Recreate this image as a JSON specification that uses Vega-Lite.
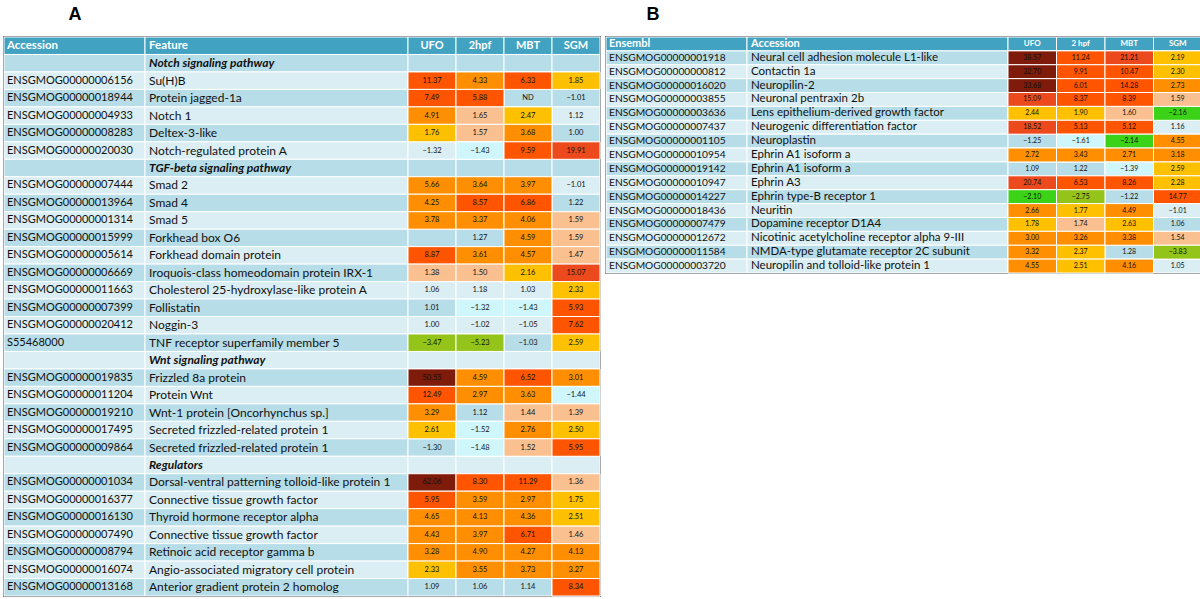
{
"$schema": "https://vega.github.io/schema/vega-lite/v6.json",
"padding": {"left": 2, "top": 4, "right": 0, "bottom": 0},
"background": "white",
"config": {"view": {"stroke": "#1a1a1a", "strokeWidth": 1.5}, "text": {"font": "Lato", "color": "#111"}, "title": {"font": "Liberation Sans", "fontSize": 18, "fontWeight": "bold", "color": "#000", "anchor": "start", "offset": 13}},
"spacing": 2,
"datasets": {
"A": [
{"r": 0, "acc": "Accession", "feat": "Feature"},
{"r": 1, "acc": "", "feat": "Notch signaling pathway", "cat": true},
{"r": 2, "acc": "ENSGMOG00000006156", "feat": "Su(H)B", "UFO": 11.37, "2hpf": 4.33, "MBT": 6.33, "SGM": 1.85},
{"r": 3, "acc": "ENSGMOG00000018944", "feat": "Protein jagged-1a", "UFO": 7.49, "2hpf": 5.88, "MBT": null, "SGM": -1.01, "nd": "MBT"},
{"r": 4, "acc": "ENSGMOG00000004933", "feat": "Notch 1", "UFO": 4.91, "2hpf": 1.65, "MBT": 2.47, "SGM": 1.12},
{"r": 5, "acc": "ENSGMOG00000008283", "feat": "Deltex-3-like", "UFO": 1.76, "2hpf": 1.57, "MBT": 3.68, "SGM": 1.00},
{"r": 6, "acc": "ENSGMOG00000020030", "feat": "Notch-regulated protein A", "UFO": -1.316, "2hpf": -1.43, "MBT": 9.59, "SGM": 19.91},
{"r": 7, "acc": "", "feat": "TGF-beta signaling pathway", "cat": true},
{"r": 8, "acc": "ENSGMOG00000007444", "feat": "Smad 2", "UFO": 5.66, "2hpf": 3.64, "MBT": 3.97, "SGM": -1.01},
{"r": 9, "acc": "ENSGMOG00000013964", "feat": "Smad 4", "UFO": 4.25, "2hpf": 8.57, "MBT": 6.86, "SGM": 1.22},
{"r": 10, "acc": "ENSGMOG00000001314", "feat": "Smad 5", "UFO": 3.78, "2hpf": 3.37, "MBT": 4.06, "SGM": 1.59},
{"r": 11, "acc": "ENSGMOG00000015999", "feat": "Forkhead box O6", "UFO": null, "2hpf": 1.27, "MBT": 4.59, "SGM": 1.59},
{"r": 12, "acc": "ENSGMOG00000005614", "feat": "Forkhead domain protein", "UFO": 8.87, "2hpf": 3.61, "MBT": 4.57, "SGM": 1.47},
{"r": 13, "acc": "ENSGMOG00000006669", "feat": "Iroquois-class homeodomain protein IRX-1", "UFO": 1.38, "2hpf": 1.50, "MBT": 2.16, "SGM": 15.07},
{"r": 14, "acc": "ENSGMOG00000011663", "feat": "Cholesterol 25-hydroxylase-like protein A", "UFO": 1.06, "2hpf": 1.18, "MBT": 1.03, "SGM": 2.33},
{"r": 15, "acc": "ENSGMOG00000007399", "feat": "Follistatin", "UFO": 1.01, "2hpf": -1.324, "MBT": -1.43, "SGM": 5.93},
{"r": 16, "acc": "ENSGMOG00000020412", "feat": "Noggin-3", "UFO": 1.00, "2hpf": -1.02, "MBT": -1.05, "SGM": 7.62},
{"r": 17, "acc": "S55468000", "feat": "TNF receptor superfamily member 5", "UFO": -3.47, "2hpf": -5.23, "MBT": -1.03, "SGM": 2.59},
{"r": 18, "acc": "", "feat": "Wnt signaling pathway", "cat": true},
{"r": 19, "acc": "ENSGMOG00000019835", "feat": "Frizzled 8a protein", "UFO": 50.55, "2hpf": 4.59, "MBT": 6.52, "SGM": 3.01},
{"r": 20, "acc": "ENSGMOG00000011204", "feat": "Protein Wnt", "UFO": 12.49, "2hpf": 2.97, "MBT": 3.63, "SGM": -1.44},
{"r": 21, "acc": "ENSGMOG00000019210", "feat": "Wnt-1 protein [Oncorhynchus sp.]", "UFO": 3.29, "2hpf": 1.12, "MBT": 1.44, "SGM": 1.39},
{"r": 22, "acc": "ENSGMOG00000017495", "feat": "Secreted frizzled-related protein 1", "UFO": 2.61, "2hpf": -1.52, "MBT": 2.76, "SGM": 2.50},
{"r": 23, "acc": "ENSGMOG00000009864", "feat": "Secreted frizzled-related protein 1", "UFO": -1.30, "2hpf": -1.48, "MBT": 1.52, "SGM": 5.95},
{"r": 24, "acc": "", "feat": "Regulators", "cat": true},
{"r": 25, "acc": "ENSGMOG00000001034", "feat": "Dorsal-ventral patterning tolloid-like protein 1", "UFO": 62.06, "2hpf": 8.30, "MBT": 11.29, "SGM": 1.36},
{"r": 26, "acc": "ENSGMOG00000016377", "feat": "Connective tissue growth factor", "UFO": 5.95, "2hpf": 3.59, "MBT": 2.97, "SGM": 1.75},
{"r": 27, "acc": "ENSGMOG00000016130", "feat": "Thyroid hormone receptor alpha", "UFO": 4.65, "2hpf": 4.13, "MBT": 4.36, "SGM": 2.51},
{"r": 28, "acc": "ENSGMOG00000007490", "feat": "Connective tissue growth factor", "UFO": 4.43, "2hpf": 3.97, "MBT": 6.71, "SGM": 1.46},
{"r": 29, "acc": "ENSGMOG00000008794", "feat": "Retinoic acid receptor gamma b", "UFO": 3.28, "2hpf": 4.90, "MBT": 4.27, "SGM": 4.13},
{"r": 30, "acc": "ENSGMOG00000016074", "feat": "Angio-associated migratory cell protein", "UFO": 2.33, "2hpf": 3.55, "MBT": 3.73, "SGM": 3.27},
{"r": 31, "acc": "ENSGMOG00000013168", "feat": "Anterior gradient protein 2 homolog", "UFO": 1.09, "2hpf": 1.06, "MBT": 1.14, "SGM": 8.34}
],
"B": [
{"r": 0, "acc": "Ensembl", "feat": "Accession"},
{"r": 1, "acc": "ENSGMOG00000001918", "feat": "Neural cell adhesion molecule L1-like", "UFO": 38.57, "2 hpf": 11.24, "MBT": 21.21, "SGM": 2.19},
{"r": 2, "acc": "ENSGMOG00000000812", "feat": "Contactin 1a", "UFO": 32.70, "2 hpf": 9.91, "MBT": 10.47, "SGM": 2.30},
{"r": 3, "acc": "ENSGMOG00000016020", "feat": "Neuropilin-2", "UFO": 33.68, "2 hpf": 6.01, "MBT": 14.28, "SGM": 2.73},
{"r": 4, "acc": "ENSGMOG00000003855", "feat": "Neuronal pentraxin 2b", "UFO": 15.09, "2 hpf": 8.37, "MBT": 8.39, "SGM": 1.59},
{"r": 5, "acc": "ENSGMOG00000003636", "feat": "Lens epithelium-derived growth factor", "UFO": 2.44, "2 hpf": 1.90, "MBT": 1.60, "SGM": -2.16},
{"r": 6, "acc": "ENSGMOG00000007437", "feat": "Neurogenic differentiation factor", "UFO": 18.52, "2 hpf": 5.13, "MBT": 5.12, "SGM": 1.16},
{"r": 7, "acc": "ENSGMOG00000001105", "feat": "Neuroplastin", "UFO": -1.25, "2 hpf": -1.61, "MBT": -2.14, "SGM": 4.55},
{"r": 8, "acc": "ENSGMOG00000010954", "feat": "Ephrin A1 isoform a", "UFO": 2.72, "2 hpf": 3.43, "MBT": 2.71, "SGM": 3.18},
{"r": 9, "acc": "ENSGMOG00000019142", "feat": "Ephrin A1 isoform a", "UFO": 1.09, "2 hpf": 1.22, "MBT": -1.39, "SGM": 2.59},
{"r": 10, "acc": "ENSGMOG00000010947", "feat": "Ephrin A3", "UFO": 20.74, "2 hpf": 6.53, "MBT": 8.26, "SGM": 2.28},
{"r": 11, "acc": "ENSGMOG00000014227", "feat": "Ephrin type-B receptor 1", "UFO": -2.10, "2 hpf": -2.75, "MBT": -1.22, "SGM": 14.77},
{"r": 12, "acc": "ENSGMOG00000018436", "feat": "Neuritin", "UFO": 2.66, "2 hpf": 1.77, "MBT": 4.49, "SGM": -1.01},
{"r": 13, "acc": "ENSGMOG00000007479", "feat": "Dopamine receptor D1A4", "UFO": 1.78, "2 hpf": 1.74, "MBT": 2.63, "SGM": 1.06},
{"r": 14, "acc": "ENSGMOG00000012672", "feat": "Nicotinic acetylcholine receptor alpha 9-III", "UFO": 3.00, "2 hpf": 3.26, "MBT": 3.38, "SGM": 1.54},
{"r": 15, "acc": "ENSGMOG00000011584", "feat": "NMDA-type glutamate receptor 2C subunit", "UFO": 3.32, "2 hpf": 2.37, "MBT": 1.28, "SGM": -3.83},
{"r": 16, "acc": "ENSGMOG00000003720", "feat": "Neuropilin and tolloid-like protein 1", "UFO": 4.55, "2 hpf": 2.51, "MBT": 4.16, "SGM": 1.05}
]
},
"hconcat": [
{
"title": {"text": "A", "dx": 65},
"width": 596, "height": 559,
"data": {"name": "A"},
"encoding": {"y": {"field": "r", "type": "ordinal", "axis": null, "scale": {"paddingInner": 0, "paddingOuter": 0}}},
"layer": [
{"mark": {"type": "rect", "stroke": "white", "strokeWidth": 1}, "encoding": {"x": {"value": 0}, "x2": {"value": 141}, "fill": {"condition": [{"test": "datum.r == 0", "value": "#41A2C2"}, {"test": "datum.r % 2 == 1", "value": "#B7DDE8"}], "value": "#DAEEF3"}}},
{"mark": {"type": "rect", "stroke": "white", "strokeWidth": 1}, "encoding": {"x": {"value": 141}, "x2": {"value": 404}, "fill": {"condition": [{"test": "datum.r == 0", "value": "#41A2C2"}, {"test": "datum.r % 2 == 1", "value": "#B7DDE8"}], "value": "#DAEEF3"}}},
{"transform": [{"filter": "datum.r > 0"}], "mark": {"type": "text", "align": "left", "dx": 3, "fontSize": 11}, "encoding": {"x": {"value": 0}, "text": {"field": "acc"}}},
{"transform": [{"filter": "datum.r > 0 && !datum.cat"}], "mark": {"type": "text", "align": "left", "dx": 4, "fontSize": 12}, "encoding": {"x": {"value": 141}, "text": {"field": "feat"}}},
{"transform": [{"filter": "datum.cat"}], "mark": {"type": "text", "align": "left", "dx": 4, "fontSize": 12, "fontWeight": "bold", "fontStyle": "italic"}, "encoding": {"x": {"value": 141}, "text": {"field": "feat"}}},
{"transform": [{"filter": "datum.r == 0"}], "mark": {"type": "text", "align": "left", "dx": 3, "fontSize": 11.5, "fontWeight": "bold", "color": "white"}, "encoding": {"x": {"value": 0}, "text": {"field": "acc"}}},
{"transform": [{"filter": "datum.r == 0"}], "mark": {"type": "text", "align": "left", "dx": 4, "fontSize": 11.5, "fontWeight": "bold", "color": "white"}, "encoding": {"x": {"value": 141}, "text": {"field": "feat"}}},
{"transform": [{"fold": ["UFO", "2hpf", "MBT", "SGM"], "as": ["key", "v"]}], "mark": {"type": "rect", "stroke": "white", "strokeWidth": 1}, "encoding": {"x": {"field": "key", "type": "nominal", "axis": null, "scale": {"domain": ["UFO", "2hpf", "MBT", "SGM"], "range": [404, 596], "paddingInner": 0, "paddingOuter": 0}}, "fill": {"condition": [{"test": "datum.r == 0", "value": "#41A2C2"}, {"test": "datum.r % 2 == 1", "value": "#B7DDE8"}], "value": "#DAEEF3"}}},
{"transform": [{"fold": ["UFO", "2hpf", "MBT", "SGM"], "as": ["key", "v"]}, {"filter": "datum.r > 0 && isValid(datum.v) && (datum.v >= 1.3 || datum.v < -1.32)"}], "mark": {"type": "rect", "stroke": "white", "strokeWidth": 1}, "encoding": {"x": {"field": "key", "type": "nominal", "axis": null, "scale": {"domain": ["UFO", "2hpf", "MBT", "SGM"], "range": [404, 596], "paddingInner": 0, "paddingOuter": 0}}, "fill": {"condition": [{"test": "datum.v >= 30", "value": "#7E1B0B"}, {"test": "datum.v >= 15", "value": "#EC4A1C"}, {"test": "datum.v >= 5.7", "value": "#FF5500"}, {"test": "datum.v >= 2.65", "value": "#FF8F00"}, {"test": "datum.v >= 1.75", "value": "#FFC000"}, {"test": "datum.v >= 0", "value": "#FAC090"}, {"test": "datum.v >= -2.0", "value": "#CFF7FB"}, {"test": "datum.v >= -2.5", "value": "#3CD217"}], "value": "#94C41A"}}},
{"transform": [{"fold": ["UFO", "2hpf", "MBT", "SGM"], "as": ["key", "v"]}, {"filter": "datum.r > 0 && isValid(datum.v)"}], "mark": {"type": "text", "fontSize": 7.5}, "encoding": {"x": {"field": "key", "type": "nominal", "axis": null, "scale": {"domain": ["UFO", "2hpf", "MBT", "SGM"], "range": [404, 596], "paddingInner": 0, "paddingOuter": 0}}, "text": {"field": "v", "type": "quantitative", "format": ".2f"}}},
{"transform": [{"fold": ["UFO", "2hpf", "MBT", "SGM"], "as": ["key", "v"]}, {"filter": "datum.nd == datum.key"}], "mark": {"type": "text", "fontSize": 7.5}, "encoding": {"x": {"field": "key", "type": "nominal", "axis": null, "scale": {"domain": ["UFO", "2hpf", "MBT", "SGM"], "range": [404, 596], "paddingInner": 0, "paddingOuter": 0}}, "text": {"value": "ND"}}},
{"transform": [{"fold": ["UFO", "2hpf", "MBT", "SGM"], "as": ["key", "v"]}, {"filter": "datum.r == 0"}], "mark": {"type": "text", "fontSize": 11, "fontWeight": "bold", "color": "white"}, "encoding": {"x": {"field": "key", "type": "nominal", "axis": null, "scale": {"domain": ["UFO", "2hpf", "MBT", "SGM"], "range": [404, 596], "paddingInner": 0, "paddingOuter": 0}}, "text": {"field": "key"}}}
]
},
{
"title": {"text": "B", "dx": 41},
"width": 596, "height": 236,
"data": {"name": "B"},
"encoding": {"y": {"field": "r", "type": "ordinal", "axis": null, "scale": {"paddingInner": 0, "paddingOuter": 0}}},
"layer": [
{"mark": {"type": "rect", "stroke": "white", "strokeWidth": 1}, "encoding": {"x": {"value": 0}, "x2": {"value": 141}, "fill": {"condition": [{"test": "datum.r == 0", "value": "#41A2C2"}, {"test": "datum.r % 2 == 1", "value": "#B7DDE8"}], "value": "#DAEEF3"}}},
{"mark": {"type": "rect", "stroke": "white", "strokeWidth": 1}, "encoding": {"x": {"value": 141}, "x2": {"value": 402}, "fill": {"condition": [{"test": "datum.r == 0", "value": "#41A2C2"}, {"test": "datum.r % 2 == 1", "value": "#B7DDE8"}], "value": "#DAEEF3"}}},
{"transform": [{"filter": "datum.r > 0"}], "mark": {"type": "text", "align": "left", "dx": 3, "fontSize": 10.2}, "encoding": {"x": {"value": 0}, "text": {"field": "acc"}}},
{"transform": [{"filter": "datum.r > 0"}], "mark": {"type": "text", "align": "left", "dx": 4, "fontSize": 11.5}, "encoding": {"x": {"value": 141}, "text": {"field": "feat"}}},
{"transform": [{"filter": "datum.r == 0"}], "mark": {"type": "text", "align": "left", "dx": 3, "fontSize": 11, "fontWeight": "bold", "color": "white"}, "encoding": {"x": {"value": 0}, "text": {"field": "acc"}}},
{"transform": [{"filter": "datum.r == 0"}], "mark": {"type": "text", "align": "left", "dx": 4, "fontSize": 11, "fontWeight": "bold", "color": "white"}, "encoding": {"x": {"value": 141}, "text": {"field": "feat"}}},
{"transform": [{"fold": ["UFO", "2 hpf", "MBT", "SGM"], "as": ["key", "v"]}], "mark": {"type": "rect", "stroke": "white", "strokeWidth": 1}, "encoding": {"x": {"field": "key", "type": "nominal", "axis": null, "scale": {"domain": ["UFO", "2 hpf", "MBT", "SGM"], "range": [402, 596], "paddingInner": 0, "paddingOuter": 0}}, "fill": {"condition": [{"test": "datum.r == 0", "value": "#41A2C2"}, {"test": "datum.r % 2 == 1", "value": "#B7DDE8"}], "value": "#DAEEF3"}}},
{"transform": [{"fold": ["UFO", "2 hpf", "MBT", "SGM"], "as": ["key", "v"]}, {"filter": "datum.r > 0 && isValid(datum.v) && (datum.v >= 1.3 || datum.v < -1.32)"}], "mark": {"type": "rect", "stroke": "white", "strokeWidth": 1}, "encoding": {"x": {"field": "key", "type": "nominal", "axis": null, "scale": {"domain": ["UFO", "2 hpf", "MBT", "SGM"], "range": [402, 596], "paddingInner": 0, "paddingOuter": 0}}, "fill": {"condition": [{"test": "datum.v >= 30", "value": "#7E1B0B"}, {"test": "datum.v >= 15", "value": "#EC4A1C"}, {"test": "datum.v >= 5.0", "value": "#FF5500"}, {"test": "datum.v >= 2.65", "value": "#FF8F00"}, {"test": "datum.v >= 1.75", "value": "#FFC000"}, {"test": "datum.v >= 0", "value": "#FAC090"}, {"test": "datum.v >= -2.0", "value": "#CFF7FB"}, {"test": "datum.v >= -2.5", "value": "#3CD217"}], "value": "#94C41A"}}},
{"transform": [{"fold": ["UFO", "2 hpf", "MBT", "SGM"], "as": ["key", "v"]}, {"filter": "datum.r > 0 && isValid(datum.v)"}], "mark": {"type": "text", "fontSize": 7}, "encoding": {"x": {"field": "key", "type": "nominal", "axis": null, "scale": {"domain": ["UFO", "2 hpf", "MBT", "SGM"], "range": [402, 596], "paddingInner": 0, "paddingOuter": 0}}, "text": {"field": "v", "type": "quantitative", "format": ".2f"}}},
{"transform": [{"fold": ["UFO", "2 hpf", "MBT", "SGM"], "as": ["key", "v"]}, {"filter": "datum.r == 0"}], "mark": {"type": "text", "fontSize": 8, "fontWeight": "bold", "color": "white"}, "encoding": {"x": {"field": "key", "type": "nominal", "axis": null, "scale": {"domain": ["UFO", "2 hpf", "MBT", "SGM"], "range": [402, 596], "paddingInner": 0, "paddingOuter": 0}}, "text": {"field": "key"}}}
]
}
]
}
